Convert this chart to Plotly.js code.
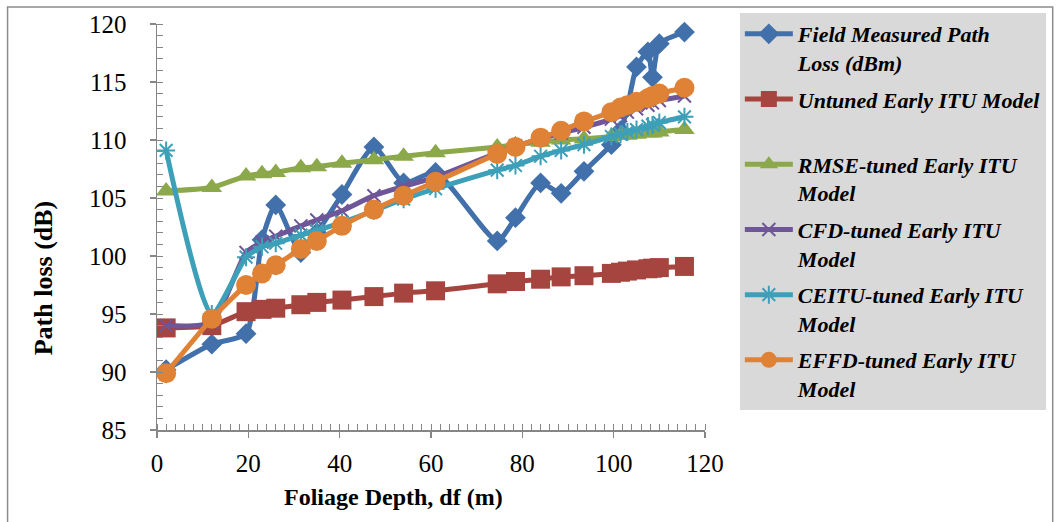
<!DOCTYPE html>
<html>
<head>
<meta charset="utf-8">
<script src="https://cdn.plot.ly/plotly-3.0.1.min.js"></script>
<style>
  html, body { margin: 0; padding: 0; background: #fff; }
  #chart { width: 1058px; height: 522px; }
</style>
</head>
<body>
<div id="chart"></div>
<script>
// Foliage depth (m)
const foliageDepth = [2, 12, 19.5, 23, 26, 31.5, 35, 40.5, 47.5, 54, 61, 74.5, 78.5, 84, 88.5, 93.5, 99.5, 101.5, 103, 105, 107.5, 108.5, 110, 115.5];

// Path loss series (dB)
const fieldMeasured = [90.2, 92.4, 93.3, 101.4, 104.4, 100.3, 102.0, 105.3, 109.4, 106.3, 107.2, 101.3, 103.3, 106.3, 105.4, 107.3, 109.6, 110.8, 112.8, 116.3, 117.6, 115.4, 118.3, 119.3];
const untunedITU = [93.8, 94.0, 95.2, 95.4, 95.5, 95.8, 96.0, 96.2, 96.5, 96.8, 97.0, 97.6, 97.8, 98.0, 98.2, 98.3, 98.5, 98.6, 98.7, 98.8, 98.9, 98.95, 99.0, 99.1];
const rmseTuned = [105.6, 105.9, 106.9, 107.1, 107.2, 107.6, 107.7, 108.0, 108.3, 108.6, 108.9, 109.4, 109.6, 109.8, 110.0, 110.1, 110.3, 110.4, 110.4, 110.5, 110.6, 110.6, 110.7, 110.9];
const cfdTuned = [94.0, 94.3, 100.3, 101.2, 101.7, 102.6, 103.1, 103.9, 105.2, 106.0, 106.8, 108.9, 109.5, 110.1, 110.6, 111.1, 111.8, 112.1, 112.4, 112.7, 113.0, 113.2, 113.4, 113.8];
const ceituTuned = [109.1, 95.0, 99.9, 100.8, 101.1, 101.8, 102.2, 102.9, 103.9, 104.9, 105.8, 107.4, 107.8, 108.6, 109.1, 109.6, 110.3, 110.5, 110.7, 110.9, 111.2, 111.3, 111.5, 112.0];
const effdTuned = [89.9, 94.6, 97.5, 98.5, 99.2, 100.6, 101.3, 102.6, 104.0, 105.2, 106.4, 108.8, 109.4, 110.2, 110.8, 111.6, 112.4, 112.8, 113.0, 113.3, 113.6, 113.8, 114.0, 114.5];

const seriesNames = [
  "Field Measured Path<br>Loss (dBm)",
  "Untuned Early ITU Model<br>&nbsp;",
  "RMSE-tuned Early ITU<br>Model",
  "CFD-tuned Early ITU<br>Model",
  "CEITU-tuned Early ITU<br>Model",
  "EFFD-tuned Early ITU<br>Model"
];

const seriesData = [fieldMeasured, untunedITU, rmseTuned, cfdTuned, ceituTuned, effdTuned];
const colors = ['#4270AA', '#A6443F', '#8BA84A', '#6F5698', '#3D9FB8', '#E08236'];
const symbols = ['diamond', 'square', 'triangle-up', 'x-thin-open', 'asterisk-open', 'circle'];
const sizes = [16, 19, 18, 13, 15, 20];

const traces = seriesData.map((ys, i) => ({
  x: foliageDepth,
  y: ys,
  name: seriesNames[i],
  legendgroup: 'g' + i,
  type: 'scatter',
  mode: 'lines+markers',
  line: { color: colors[i], width: 5, shape: 'spline', smoothing: 0.6 },
  marker: {
    symbol: symbols[i],
    size: sizes[i],
    color: colors[i],
    line: { color: colors[i], width: (symbols[i].endsWith('open') ? 2 : 0) }
  },
  cliponaxis: false
}));

const axisColor = '#868686';
const tickFont = { family: 'Liberation Serif', size: 25, color: '#000' };

const layout = {
  width: 1058,
  height: 522,
  margin: { l: 157, r: 351, t: 24, b: 92 },
  paper_bgcolor: '#ffffff',
  plot_bgcolor: '#ffffff',
  showlegend: true,
  xaxis: {
    range: [0, 120],
    dtick: 20,
    tick0: 0,
    ticks: 'outside',
    ticklen: 6,
    tickwidth: 1.5,
    tickcolor: axisColor,
    showline: true,
    linecolor: axisColor,
    linewidth: 1.5,
    showgrid: false,
    zeroline: false,
    tickfont: tickFont,
    ticklabelstandoff: 4,
    minor: { dtick: 2, ticks: 'inside', ticklen: 6, tickcolor: axisColor, tickwidth: 1, showgrid: false }
  },
  yaxis: {
    range: [85, 120],
    dtick: 5,
    tick0: 85,
    ticks: 'outside',
    ticklen: 6,
    tickwidth: 1.5,
    tickcolor: axisColor,
    showline: true,
    linecolor: axisColor,
    linewidth: 1.5,
    showgrid: false,
    zeroline: false,
    tickfont: tickFont,
    ticklabelstandoff: 18,
    minor: { dtick: 1, ticks: 'inside', ticklen: 6, tickcolor: axisColor, tickwidth: 1, showgrid: false }
  },
  legend: {
    x: 1.0636,
    y: 1.027,
    xanchor: 'left',
    yanchor: 'top',
    bgcolor: '#d9d9d9',
    borderwidth: 0,
    valign: 'top',
    maxheight: 600,
    itemwidth: 48,
    tracegroupgap: 5,
    font: { family: 'Liberation Serif', size: 22, color: '#000', weight: 'bold', style: 'italic' }
  },
  annotations: [
    {
      text: 'Foliage Depth, df (m)',
      xref: 'paper', yref: 'paper',
      x: 0.431, y: -0.165,
      xanchor: 'center', yanchor: 'middle',
      showarrow: false,
      font: { family: 'Liberation Serif', size: 24, color: '#000', weight: 'bold' }
    },
    {
      text: 'Path loss (dB)',
      xref: 'paper', yref: 'paper',
      x: -0.207, y: 0.375,
      xanchor: 'center', yanchor: 'middle',
      textangle: -90,
      showarrow: false,
      font: { family: 'Liberation Serif', size: 26, color: '#000', weight: 'bold' }
    }
  ],
  shapes: [
    {
      type: 'rect', xref: 'paper', yref: 'paper',
      x0: -0.2727, x1: 1.6345, y0: -0.26, y1: 1.0419,
      line: { color: '#8c8c8c', width: 1.5 },
      fillcolor: 'rgba(0,0,0,0)',
      layer: 'below'
    }
  ]
};

Plotly.newPlot('chart', traces, layout, { staticPlot: true, displayModeBar: false });
</script>
</body>
</html>
